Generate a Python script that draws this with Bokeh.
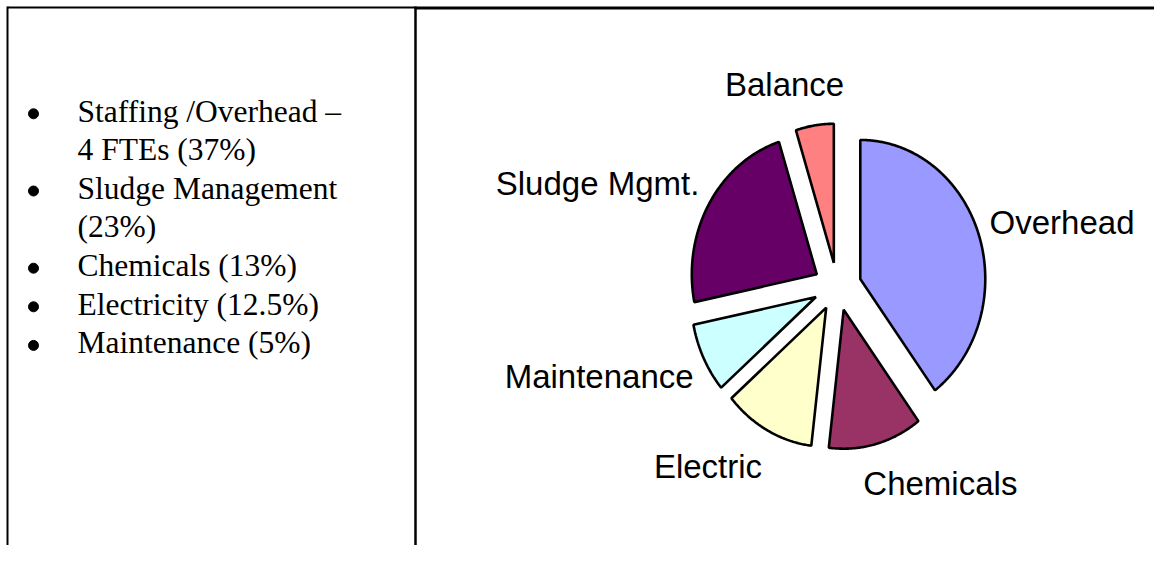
import math
from bokeh.plotting import figure
from bokeh.models import Range1d
from bokeh.core.properties import value
from bokeh.embed import file_html
from bokeh.resources import INLINE

# ---- data ----
categories = ["Overhead", "Chemicals", "Electric", "Maintenance", "Sludge Mgmt.", "Balance"]
shares = [39.8, 12.1, 11.8, 8.1, 23.3, 4.9]
colors = ["#9999FF", "#993366", "#FFFFCC", "#CCFFFF", "#660066", "#FF8080"]
bullet_items = [
    ["Staffing /Overhead \u2013", "4 FTEs (37%)"],
    ["Sludge Management", "(23%)"],
    ["Chemicals (13%)"],
    ["Electricity (12.5%)"],
    ["Maintenance (5%)"],
]

# ---- layout / style ----
W, H = 1154, 545
CX, CY = 837.0, 286.0      # pie centre (plot units = pixels)
RX, RY = 125.0, 139.0      # pie radii (slightly stretched vertically)
EXPLODE = 24.0
LABEL_RHO_X, LABEL_RHO_Y = 1.09, 1.165
LABEL_FS = 33
LABEL_H2 = 18.0
ARIAL_W = {'O': .778, 'v': .5, 'e': .556, 'r': .333, 'h': .556, 'a': .556, 'd': .556,
           'C': .722, 'm': .833, 'i': .222, 'c': .5, 'l': .222, 's': .5, 'E': .667,
           't': .278, 'M': .833, 'n': .556, 'S': .667, 'u': .556, 'g': .556, ' ': .278,
           '.': .278, 'B': .667}


def clamp(v):
    return max(-1.0, min(1.0, v))


p = figure(width=W, height=H, x_range=Range1d(0, W), y_range=Range1d(H, 0),
           output_backend="svg", toolbar_location=None, min_border=0,
           x_axis_location=None, y_axis_location=None)
p.xgrid.visible = False
p.ygrid.visible = False
p.outline_line_color = None
p.background_fill_color = "white"
p.border_fill_color = "white"

# ---- table frame ----
p.segment(x0=[7], y0=[7], x1=[415], y1=[7], line_color="black", line_width=2)
p.segment(x0=[415], y0=[7.5], x1=[W], y1=[7.5], line_color="black", line_width=3)
p.segment(x0=[7], y0=[6], x1=[7], y1=[H], line_color="black", line_width=2)
p.segment(x0=[415], y0=[6], x1=[415], y1=[H], line_color="black", line_width=2.5)

# ---- bullet list ----
TEXT_X, BULLET_X = 77, 33
TEXT_FS = 31.5
FIRST_BASE, LINE_STEP = 121.3, 38.6
tx, ty, tt, bx, by = [], [], [], [], []
line = 0
for item in bullet_items:
    bx.append(BULLET_X)
    by.append(FIRST_BASE + line * LINE_STEP - 8)
    for ln in item:
        tx.append(TEXT_X)
        ty.append(FIRST_BASE + line * LINE_STEP - 0.338 * TEXT_FS)
        tt.append(ln)
        line += 1
p.text(x=tx, y=ty, text=tt, text_font=value("Liberation Serif"), text_font_size=f"{TEXT_FS}px",
       text_color="black", text_align="left", text_baseline="middle")
p.scatter(x=bx, y=by, size=10, marker="circle", fill_color="black", line_color="black")

# ---- exploded pie ----
total = float(sum(shares))
xs, ys = [], []
lx, ly = [], []
start = 0.0
for cat, s in zip(categories, shares):
    span = 360.0 * s / total
    a0, a1 = start, start + span
    mid = math.radians((a0 + a1) / 2)
    dx, dy = math.sin(mid), -math.cos(mid)
    ox, oy = CX + EXPLODE * dx, CY + EXPLODE * dy
    n = max(8, int(span * 2))
    px, py = [ox], [oy]
    for k in range(n + 1):
        t = math.radians(a0 + span * k / n)
        px.append(ox + math.sin(t) * RX)
        py.append(oy - math.cos(t) * RY)
    xs.append(px)
    ys.append(py)
    # label: anchor outside the slice, text box pushed outwards
    w = sum(ARIAL_W.get(ch, .556) for ch in cat) * LABEL_FS
    lx.append(CX + dx * (LABEL_RHO_X * RX + EXPLODE) + clamp(3.1 * dx) * w / 2)
    ly.append(CY + dy * (LABEL_RHO_Y * RY + EXPLODE + LABEL_H2))
    start = a1

p.patches(xs=xs, ys=ys, fill_color=colors, line_color="black", line_width=2.6)
p.text(x=lx, y=ly, text=categories, text_font=value("Liberation Sans"),
       text_font_size=f"{LABEL_FS}px", text_color="black",
       text_align="center", text_baseline="middle")

open("out.html", "w").write(file_html(p, INLINE))
